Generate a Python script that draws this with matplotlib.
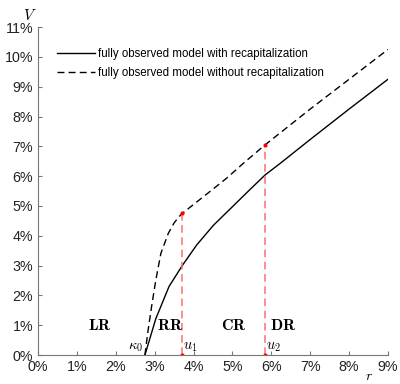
import matplotlib.pyplot as plt
from matplotlib.ticker import FuncFormatter

plt.rcParams["mathtext.fontset"] = "cm"
plt.rcParams["font.family"] = ["Liberation Sans", "DejaVu Sans"]

# r (in %) and V (in %)
r_rec = [2.75, 3.03, 3.37, 3.71, 4.08, 4.51, 5.02, 5.45, 5.84, 6.22, 7.00, 8.00, 9.00]
v_rec = [0.00, 1.22, 2.30, 3.00, 3.69, 4.35, 5.00, 5.55, 6.04, 6.42, 7.23, 8.25, 9.25]

r_norec = [2.75, 2.82, 2.92, 3.03, 3.16, 3.35, 3.50, 3.62, 3.71, 4.34, 4.85, 5.28, 5.84, 7.00, 8.00, 9.00]
v_norec = [0.00, 0.73, 1.62, 2.52, 3.41, 4.08, 4.43, 4.63, 4.75, 5.40, 5.93, 6.43, 7.05, 8.25, 9.25, 10.25]

kappa0 = 2.75
u1, v_u1 = 3.71, 4.75
u2, v_u2 = 5.84, 7.05

regions = ["LR", "RR", "CR", "DR"]
region_x = [1.6, 3.4, 5.04, 6.3]

fig = plt.figure(figsize=(4.0, 3.84), dpi=100)
ax = fig.add_axes([0.095, 0.0755, 0.875, 0.854])

ax.plot(r_rec, v_rec, color="black", lw=1.0,
        label="fully observed model with recapitalization")
ax.plot(r_norec, v_norec, color="black", lw=1.0, linestyle=(0, (5, 3)),
        label="fully observed model without recapitalization")

red = "#ff6f6f"
ax.plot([u1, u1], [0, v_u1], color=red, lw=1.1, linestyle=(0, (5, 3)))
ax.plot([u2, u2], [0, v_u2], color=red, lw=1.1, linestyle=(0, (5, 3)))
ax.plot([u1, u2], [v_u1, v_u2], "o", color="red", ms=2, ls="none")
ax.plot([u1, u2], [0, 0], "o", color="red", ms=2, ls="none")

for name, x in zip(regions, region_x):
    ax.text(x, 1.0, r"$\mathbf{%s}$" % name, fontsize=11.5, ha="center", va="center")

ax.text(kappa0 - 0.05, 0.05, r"$\kappa_0$", fontsize=10.5, ha="right", va="bottom")
ax.text(u1 + 0.02, 0.05, r"$u_1$", fontsize=10.5, ha="left", va="bottom")
ax.text(u2 + 0.02, 0.05, r"$u_2$", fontsize=10.5, ha="left", va="bottom")

ax.set_xlim(0, 9)
ax.set_ylim(0, 11)
ax.set_xticks(range(0, 10))
ax.set_yticks(range(0, 12))
pct = FuncFormatter(lambda v, p: "%d%%" % v)
ax.xaxis.set_major_formatter(pct)
ax.yaxis.set_major_formatter(pct)
ax.tick_params(direction="in", length=3, labelsize=10.3,
               colors="#777777", labelcolor="#222222")
for s in ["top", "right"]:
    ax.spines[s].set_visible(False)
for s in ["left", "bottom"]:
    ax.spines[s].set_color("#777777")

ax.text(-0.2, 11.15, r"$V$", fontsize=11, ha="center", va="bottom")
ax.text(8.5, -0.7, r"$r$", fontsize=10, ha="center", va="center")

ax.legend(loc="upper left", bbox_to_anchor=(0.04, 0.95), frameon=False,
          fontsize=8.3, handlelength=3.3, handletextpad=0.25, labelspacing=0.6,
          borderaxespad=0)

fig.savefig("out.png", dpi=100)
